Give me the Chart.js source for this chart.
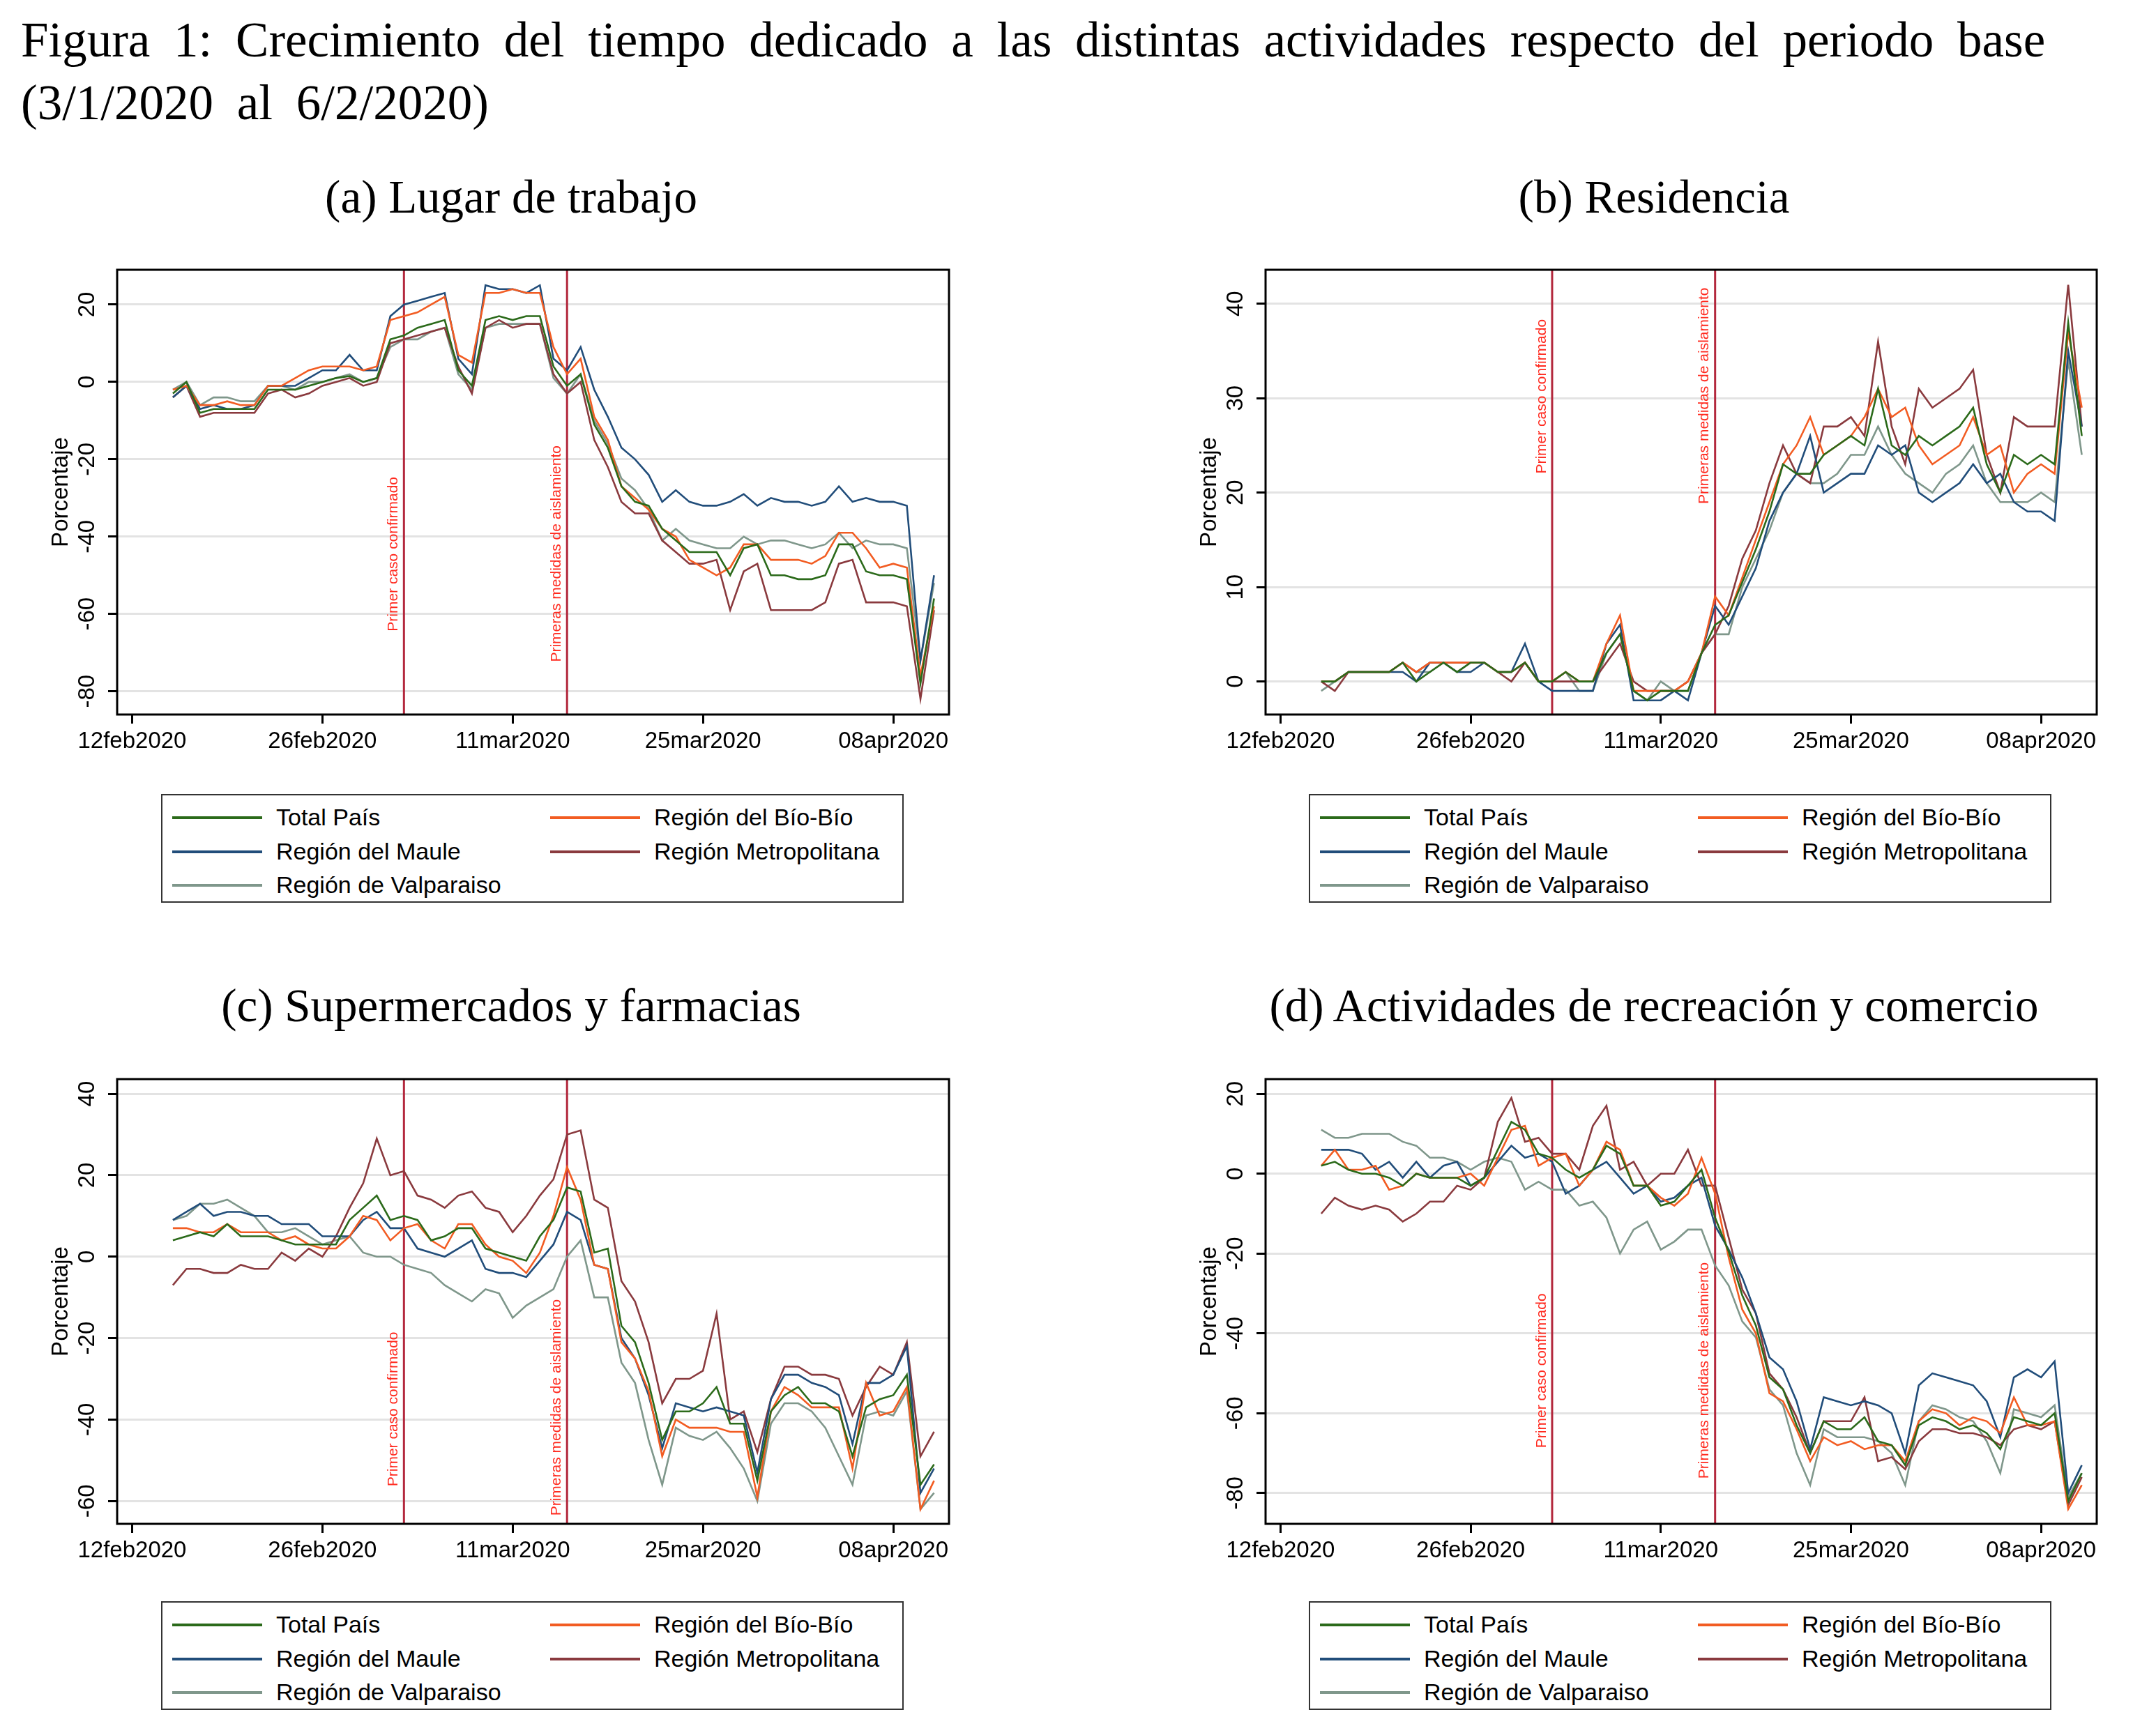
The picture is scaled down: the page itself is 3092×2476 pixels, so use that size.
<!DOCTYPE html>
<html>
<head>
<meta charset="utf-8">
<script src="https://cdn.jsdelivr.net/npm/chart.js@4.4.1/dist/chart.umd.min.js"></script>
<style>
  body { margin: 0; background: #fff; width: 3092px; height: 2476px; position: relative; overflow: hidden; }
  .main-title { position: absolute; left: 30px; top: 12px; font-family: "Liberation Serif", serif; font-size: 71px; line-height: 90px; color: #000; word-spacing: 16px; white-space: nowrap; }
  .panel-title { position: absolute; font-family: "Liberation Serif", serif; font-size: 67px; transform: translateX(-50%); white-space: nowrap; }
  canvas { position: absolute; }
  .legend { position: absolute; border: 2px solid #333; height: 156px; box-sizing: border-box; font-family: "Liberation Sans", Arial, sans-serif; font-size: 34px; }
  .legend .item { position: absolute; white-space: nowrap; }
  .legend .swatch { position: absolute; width: 129px; height: 4px; top: -2px; }
  .legend .lbl { position: absolute; left: 149px; top: -20px; }
</style>
</head>
<body>
<div class="main-title">Figura 1: Crecimiento del tiempo dedicado a las distintas actividades respecto del periodo base<br>(3/1/2020 al 6/2/2020)</div>

<script>
// days counted from 15feb2020 (index 0) to 11apr2020 (index 56)
const tickDays = [-3, 11, 25, 39, 53];
const tickLabels = ['12feb2020', '26feb2020', '11mar2020', '25mar2020', '08apr2020'];
const eventDays = [17, 29];
const eventLabels = ['Primer caso confirmado', 'Primeras medidas de aislamiento'];

const seriesNames = ['Total País', 'Región del Bío-Bío', 'Región del Maule', 'Región Metropolitana', 'Región de Valparaiso'];
const seriesColors = ['#2b6a1a', '#f25c22', '#214d7a', '#8a3a3e', '#7f978b'];

// (a) Lugar de trabajo
const aTotal = [-3,0,-8,-7,-7,-7,-7,-2,-2,-2,-1,0,1,1.5,0,1,11,12,14,15,16,3,-1,16,17,16,17,17,4,-1,2,-11,-17,-27,-31,-32,-38,-41,-44,-44,-44,-50,-43,-42,-50,-50,-51,-51,-50,-42,-42,-49,-50,-50,-51,-78,-56];
const aBio = [-2,-1,-6,-6,-5,-6,-6,-1,-1,1,3,4,4,4,3,4,16,17,18,20,22,7,5,23,23,24,23,23,9,2,6,-9,-15,-27,-30,-33,-38,-40,-46,-48,-50,-48,-42,-42,-46,-46,-46,-47,-45,-39,-39,-43,-48,-47,-48,-76,-58];
const aMaule = [-4,-1,-7,-6,-7,-7,-6,-1,-1,-1,1,3,3,7,3,3,17,20,21,22,23,6,2,25,24,24,23,25,6,3,9,-2,-9,-17,-20,-24,-31,-28,-31,-32,-32,-31,-29,-32,-30,-31,-31,-32,-31,-27,-31,-30,-31,-31,-32,-72,-50];
const aMetro = [-4,-1,-9,-8,-8,-8,-8,-3,-2,-4,-3,-1,0,1,-1,0,10,11,12,13,14,4,-3,14,16,14,15,15,2,-3,0,-15,-22,-31,-34,-34,-41,-44,-47,-47,-46,-59,-49,-47,-59,-59,-59,-59,-57,-47,-46,-57,-57,-57,-58,-82,-59];
const aValpo = [-2,0,-6,-4,-4,-5,-5,-1,-1,-2,0,0,1,2,0,1,9,11,11,13,14,2,-2,14,15,15,15,15,1,-3,2,-10,-16,-25,-28,-33,-41,-38,-41,-42,-43,-43,-40,-42,-41,-41,-42,-43,-42,-39,-43,-41,-42,-42,-43,-72,-52];

// (b) Residencia
const bTotal = [0,0,1,1,1,1,2,0,1,2,1,2,2,1,1,2,0,0,1,0,0,3,5,-1,-2,-1,-1,-1,3,6,7,10.5,14,18,23,22,22,24,25,26,25,31,25,24,26,25,26,27,29,23,20,24,23,24,23,38,26];
const bBio = [0,0,1,1,1,1,2,1,2,2,2,2,2,1,1,2,0,0,1,0,0,4,7,-1,-1,-1,-1,0,3,9,7,11,15,19,23,25,28,24,25,26,28,31,28,29,25,23,24,25,28,24,25,20,22,23,22,37,29];
const bMaule = [0,0,1,1,1,1,1,0,2,2,1,1,2,1,1,4,0,-1,-1,-1,-1,4,6,-2,-2,-2,-1,-2,3,8,6,9,12,17,20,22,26,20,21,22,22,25,24,25,20,19,20,21,23,21,22,19,18,18,17,35,27];
const bMetro = [0,-1,1,1,1,1,2,1,2,2,2,2,2,1,0,2,0,0,0,0,0,2,4,0,-1,-1,-1,0,3,5,8,13,16,21,25,22,21,27,27,28,26,36,27,23,31,29,30,31,33,24,20,28,27,27,27,42,27];
const bValpo = [-1,0,1,1,1,1,2,1,1,2,1,2,2,1,1,2,0,0,1,-1,-1,3,5,-1,-2,0,-1,-1,3,5,5,10,13,16,20,22,21,21,22,24,24,27,24,22,21,20,22,23,25,21,19,19,19,20,19,34,24];

// (c) Supermercados y farmacias
const cTotal = [4,5,6,5,8,5,5,5,4,3,3,3,3,9,12,15,9,10,9,4,5,7,7,2,1,0,-1,5,9,17,16,1,2,-17,-21,-31,-45,-38,-38,-36,-32,-41,-41,-55,-38,-34,-32,-36,-36,-38,-49,-37,-35,-34,-29,-56,-51];
const cBio = [7,7,6,6,8,6,6,6,4,5,3,2,2,5,10,9,4,7,8,4,2,8,8,3,0,-1,-4,1,10,22,14,-2,-3,-21,-25,-33,-49,-40,-42,-42,-42,-43,-43,-59,-38,-32,-34,-37,-37,-37,-52,-31,-39,-38,-32,-62,-55];
const cMaule = [9,11,13,10,11,11,10,10,8,8,8,5,5,5,9,11,7,7,2,1,0,2,4,-3,-4,-4,-5,-1,3,11,9,-2,-3,-20,-25,-34,-47,-36,-37,-38,-37,-38,-39,-53,-35,-29,-29,-31,-32,-34,-46,-31,-31,-29,-22,-58,-52];
const cMetro = [-7,-3,-3,-4,-4,-2,-3,-3,1,-1,2,0,5,12,18,29,20,21,15,14,12,15,16,12,11,6,10,15,19,30,31,14,12,-6,-11,-21,-36,-30,-30,-28,-14,-40,-38,-48,-35,-27,-27,-29,-29,-30,-39,-32,-27,-29,-21,-49,-43];
const cValpo = [9,10,13,13,14,12,10,6,6,7,5,3,4,5,1,0,0,-2,-3,-4,-7,-9,-11,-8,-9,-15,-12,-10,-8,0,4,-10,-10,-26,-31,-45,-56,-42,-44,-45,-43,-47,-52,-60,-41,-36,-36,-38,-42,-49,-56,-39,-38,-39,-33,-62,-58];

// (d) Actividades de recreación y comercio
const dTotal = [2,3,1,0,0,-1,-3,0,-1,-1,-1,-3,-1,6,13,11,5,4,1,-1,1,7,5,-3,-3,-8,-7,-3,1,-11,-19.5,-30.5,-38,-51,-54,-63,-70,-62,-64,-64,-61,-67,-68,-73,-63,-61,-62,-64,-63,-65,-69,-61,-62,-63,-60,-82,-75];
const dBio = [2,6,1,1,2,-4,-3,0,-1,-1,-1,0,-3,4,11,12,2,4,5,-3,1,8,6,-3,-3,-6,-8,-5,4,-5,-21,-34,-40,-55,-57,-64,-72,-66,-68,-67,-69,-68,-68,-72,-62,-59,-60,-63,-61,-62,-65,-56,-63,-63,-62,-84,-78];
const dMaule = [6,6,6,5,1,3,-1,3,-1,2,3,-3,-1,3,7,4,5,3,-5,-3,1,3,-1,-5,-3,-7,-6,-3,-1,-13,-19,-26,-35,-46,-49,-57,-69,-56,-57,-58,-57,-58,-60,-70,-53,-50,-51,-52,-53,-57,-66,-51,-49,-51,-47,-80,-73];
const dMetro = [-10,-6,-8,-9,-8,-9,-12,-10,-7,-7,-3,-4,-1,13,19,8,9,5,5,1,12,17,1,3,-3,0,0,6,-3,-3,-16,-29,-35,-50,-54,-61,-70,-62,-62,-62,-56,-72,-71,-74,-67,-64,-64,-65,-65,-66,-68,-64,-63,-64,-62,-83,-76];
const dValpo = [11,9,9,10,10,10,8,7,4,4,3,1,3,4,3,-4,-2,-4,-4,-8,-7,-11,-20,-14,-12,-19,-17,-14,-14,-23,-28,-37,-41,-54,-58,-70,-78,-64,-66,-66,-66,-67,-70,-78,-62,-58,-59,-61,-62,-67,-75,-59,-60,-61,-58,-81,-75];

const panels = [
  { title: '(a) Lugar de trabajo', tx: 733, ty: 244, left: 0, top: 360, axisW: 168, series: [aTotal, aBio, aMaule, aMetro, aValpo],
    yMin: -86, yMax: 29, yTicks: [-80, -60, -40, -20, 0, 20], textAt: [-64.5, -72.4], legendX: 231, legendY: 1139, legendW: 1065 },
  { title: '(b) Residencia', tx: 2372, ty: 244, left: 1650, top: 360, axisW: 165, series: [bTotal, bBio, bMaule, bMetro, bValpo],
    yMin: -3.5, yMax: 43.6, yTicks: [0, 10, 20, 30, 40], textAt: [22, 18.8], legendX: 1877, legendY: 1139, legendW: 1065 },
  { title: '(c) Supermercados y farmacias', tx: 733, ty: 1404, left: 0, top: 1521, axisW: 168, series: [cTotal, cBio, cMaule, cMetro, cValpo],
    yMin: -65.6, yMax: 43.6, yTicks: [-60, -40, -20, 0, 20, 40], textAt: [-56.4, -63.6], legendX: 231, legendY: 2297, legendW: 1065 },
  { title: '(d) Actividades de recreación y comercio', tx: 2372, ty: 1404, left: 1650, top: 1521, axisW: 165, series: [dTotal, dBio, dMaule, dMetro, dValpo],
    yMin: -87.7, yMax: 23.7, yTicks: [-80, -60, -40, -20, 0, 20], textAt: [-68.7, -76.4], legendX: 1877, legendY: 2297, legendW: 1065 }
];

const drawOrder = [0, 1, 2, 3, 4];

const decorPlugin = {
  id: 'decor',
  beforeDatasetsDraw(chart, args, opts) {
    const { ctx, chartArea: a, scales: { x } } = chart;
    ctx.save();
    eventDays.forEach(d => {
      const px = x.getPixelForValue(d);
      ctx.strokeStyle = '#b3283d';
      ctx.lineWidth = 3;
      ctx.beginPath(); ctx.moveTo(px, a.top); ctx.lineTo(px, a.bottom); ctx.stroke();
    });
    ctx.restore();
  },
  afterDraw(chart, args, opts) {
    const { ctx, chartArea: a, scales: { x, y } } = chart;
    ctx.save();
    // event labels
    ctx.fillStyle = '#ff2a1f';
    ctx.font = '21px "Liberation Sans", Arial, sans-serif';
    ctx.textAlign = 'left';
    ctx.textBaseline = 'middle';
    eventDays.forEach((d, i) => {
      const px = x.getPixelForValue(d);
      ctx.save();
      ctx.translate(px - 15, y.getPixelForValue(opts.textAt[i]));
      ctx.rotate(-Math.PI / 2);
      ctx.fillText(eventLabels[i], 0, 0);
      ctx.restore();
    });
    // frame
    ctx.strokeStyle = '#000';
    ctx.lineWidth = 3;
    ctx.strokeRect(a.left, a.top, a.right - a.left, a.bottom - a.top);
    // rotated y tick labels and title
    ctx.fillStyle = '#000';
    ctx.font = '33px "Liberation Sans", Arial, sans-serif';
    ctx.textAlign = 'center';
    y.ticks.forEach(t => {
      ctx.save();
      ctx.translate(a.left - 42, y.getPixelForValue(t.value));
      ctx.rotate(-Math.PI / 2);
      ctx.fillText(String(t.value), 0, 0);
      ctx.restore();
    });
    ctx.save();
    ctx.translate(a.left - 80, (a.top + a.bottom) / 2);
    ctx.rotate(-Math.PI / 2);
    ctx.fillText('Porcentaje', 0, 0);
    ctx.restore();
    ctx.restore();
  }
};

panels.forEach(p => {
  const t = document.createElement('div');
  t.className = 'panel-title';
  t.style.left = p.tx + 'px';
  t.style.top = p.ty + 'px';
  t.textContent = p.title;
  document.body.appendChild(t);

  const cv = document.createElement('canvas');
  cv.style.left = p.left + 'px';
  cv.style.top = p.top + 'px';
  cv.style.width = '1400px';
  cv.style.height = '760px';
  cv.width = 1400; cv.height = 760;
  document.body.appendChild(cv);

  const rightEdge = p.left === 0 ? 1361 : 3007;
  new Chart(cv, {
    type: 'line',
    data: {
      datasets: drawOrder.map(k => ({
        label: seriesNames[k],
        data: p.series[k].map((v, i) => ({ x: i, y: v })),
        borderColor: seriesColors[k],
        borderWidth: 2.6,
        pointRadius: 0,
        tension: 0,
        fill: false
      }))
    },
    plugins: [decorPlugin],
    options: {
      responsive: false,
      animation: false,
      devicePixelRatio: 1,
      layout: { padding: { left: 0, top: 27, right: p.left + 1400 - rightEdge, bottom: 0 } },
      plugins: { legend: { display: false }, tooltip: { enabled: false }, decor: { textAt: p.textAt } },
      scales: {
        x: {
          type: 'linear', min: -4.1, max: 57.1,
          afterBuildTicks: s => { s.ticks = tickDays.map(v => ({ value: v })); },
          afterFit: s => { s.height = 95; },
          grid: { drawOnChartArea: false, drawTicks: true, tickLength: 13, color: '#000', lineWidth: 3 },
          border: { display: false },
          ticks: {
            autoSkip: false, maxRotation: 0, padding: 6, color: '#000',
            font: { family: '"Liberation Sans", Arial, sans-serif', size: 33 },
            callback: v => tickLabels[tickDays.indexOf(v)]
          }
        },
        y: {
          min: p.yMin, max: p.yMax,
          afterBuildTicks: s => { s.ticks = p.yTicks.map(v => ({ value: v })); },
          afterFit: s => { s.width = p.axisW; },
          grid: { color: '#e3e3e3', lineWidth: 3, drawTicks: true, tickLength: 13, tickColor: '#000', tickWidth: 3 },
          border: { display: false },
          ticks: { display: false }
        }
      }
    }
  });

  const lg = document.createElement('div');
  lg.className = 'legend';
  lg.style.left = p.legendX + 'px';
  lg.style.top = p.legendY + 'px';
  lg.style.width = p.legendW + 'px';
  const slots = [[14, 32], [556, 32], [14, 81], [556, 81], [14, 129]];
  drawOrder.forEach((k, j) => {
    const it = document.createElement('div');
    it.className = 'item';
    it.style.left = slots[j][0] + 'px';
    it.style.top = slots[j][1] + 'px';
    it.innerHTML = '<div class="swatch" style="background:' + seriesColors[k] + '"></div><div class="lbl">' + seriesNames[k] + '</div>';
    lg.appendChild(it);
  });
  document.body.appendChild(lg);
});
</script>
</body>
</html>
